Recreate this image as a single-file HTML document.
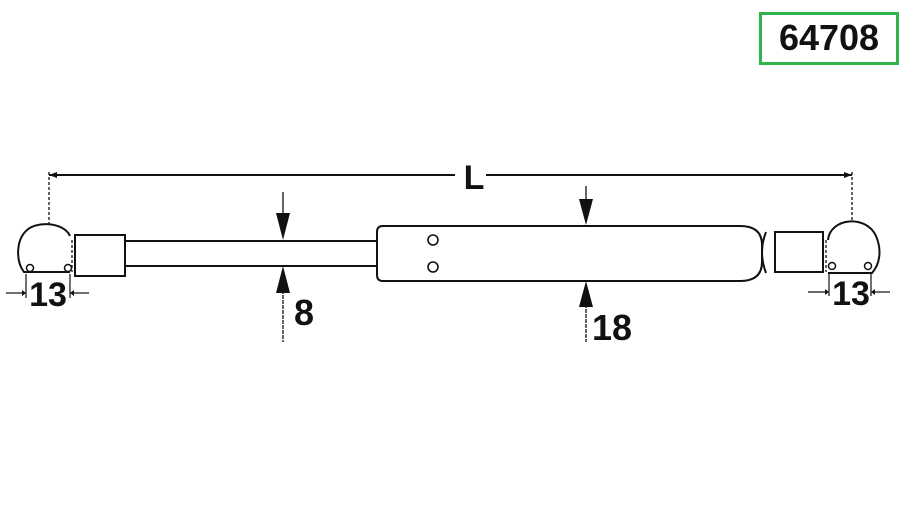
<!DOCTYPE html>
<html><head><style>
html,body{margin:0;padding:0;background:#fff;width:920px;height:517px;overflow:hidden}
svg{display:block}
text{font-family:"Liberation Sans",sans-serif;font-weight:bold;fill:#111}
</style></head><body>
<svg width="920" height="517" viewBox="0 0 920 517" xmlns="http://www.w3.org/2000/svg">
<rect x="760.5" y="13.5" width="137" height="50" fill="#fff" stroke="#2db34a" stroke-width="3"/>
<text x="829" y="50" font-size="36" text-anchor="middle">64708</text>

<g stroke="#111" fill="none" stroke-width="2">
<!-- L dimension -->
<line x1="49" y1="172" x2="49" y2="226" stroke-dasharray="3,2" stroke-width="1.3"/>
<line x1="852" y1="172" x2="852" y2="222" stroke-dasharray="3,2" stroke-width="1.3"/>
<line x1="49" y1="175" x2="455" y2="175"/>
<line x1="486" y1="175" x2="852" y2="175"/>
<!-- left ball -->
<path d="M70 236 C64 222 35 220 25 232 C16 242 16 262 24 272 L70 272"/>
<circle cx="30" cy="268" r="3.5" stroke-width="1.5"/>
<circle cx="68" cy="268" r="3.5" stroke-width="1.5"/>
<line x1="72" y1="240" x2="72" y2="272" stroke-dasharray="3,2" stroke-width="1.3"/>
<!-- left cylinder -->
<rect x="75" y="235" width="50" height="41"/>
<!-- rod -->
<line x1="125" y1="241" x2="377" y2="241"/>
<line x1="125" y1="266" x2="377" y2="266"/>
<!-- body -->
<path d="M383 226 L740 226 Q762 226 762 245 L762 262 Q762 281 740 281 L383 281 Q377 281 377 275 L377 232 Q377 226 383 226 Z"/>
<circle cx="433" cy="240" r="5" stroke-width="1.6"/>
<circle cx="433" cy="267" r="5" stroke-width="1.6"/>
<!-- right neck -->
<path d="M766 232 Q758 252 766 273"/>
<!-- right cylinder -->
<rect x="775" y="232" width="48" height="40"/>
<!-- right ball -->
<path d="M828 240 C830 218 866 214 876 236 C882 250 880 264 872 273 L828 273"/>
<circle cx="832" cy="266" r="3.5" stroke-width="1.5"/>
<circle cx="868" cy="266" r="3.5" stroke-width="1.5"/>
<line x1="826" y1="240" x2="826" y2="272" stroke-dasharray="3,2" stroke-width="1.3"/>
<!-- 8 dim -->
<line x1="283" y1="192" x2="283" y2="228" stroke-width="1.3"/>
<line x1="283" y1="280" x2="283" y2="342" stroke-width="1.3" stroke-dasharray="4,1"/>
<!-- 18 dim -->
<line x1="586" y1="186" x2="586" y2="212" stroke-width="1.3"/>
<line x1="586" y1="294" x2="586" y2="342" stroke-width="1.3" stroke-dasharray="4,1"/>
<!-- 13 left -->
<line x1="26" y1="274" x2="26" y2="298" stroke-width="1.2"/>
<line x1="70" y1="274" x2="70" y2="298" stroke-width="1.2"/>
<line x1="6" y1="293" x2="22" y2="293" stroke-width="1.2"/>
<line x1="74" y1="293" x2="89" y2="293" stroke-width="1.2"/>
<!-- 13 right -->
<line x1="829" y1="273" x2="829" y2="296" stroke-width="1.2"/>
<line x1="871" y1="273" x2="871" y2="296" stroke-width="1.2"/>
<line x1="808" y1="292" x2="825" y2="292" stroke-width="1.2"/>
<line x1="875" y1="292" x2="890" y2="292" stroke-width="1.2"/>
</g>
<g fill="#111">
<polygon points="276,213 290,213 283,240"/>
<polygon points="276,293 290,293 283,266"/>
<polygon points="579,199 593,199 586,225"/>
<polygon points="579,307 593,307 586,281"/>
<polygon points="22,290 22,296 26,293"/>
<polygon points="74,290 74,296 70,293"/>
<polygon points="825,289 825,295 829,292"/>
<polygon points="875,289 875,295 871,292"/>
<polygon points="49,175 57,172 57,178"/>
<polygon points="852,175 844,172 844,178"/>
</g>
<text x="474" y="189" font-size="34" text-anchor="middle">L</text>
<text x="304" y="325" font-size="36" text-anchor="middle">8</text>
<text x="612" y="340" font-size="36" text-anchor="middle">18</text>
<text x="48" y="306" font-size="34" text-anchor="middle">13</text>
<text x="851" y="305" font-size="34" text-anchor="middle">13</text>
</svg>
</body></html>
